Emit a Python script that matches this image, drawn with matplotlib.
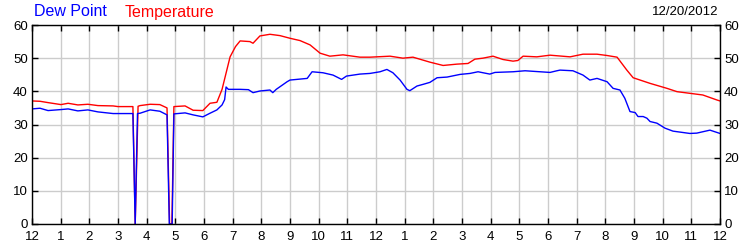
import matplotlib
matplotlib.use("Agg")
import matplotlib.pyplot as plt

plt.rcParams['font.family'] = ['Liberation Sans', 'DejaVu Sans']

# hours since midnight, degrees F
temp_hours = [0, 0.28, 0.56, 1.01, 1.26, 1.6, 1.95, 2.3, 2.83, 3.0, 3.52, 3.6, 3.7, 3.77,
              4.12, 4.46, 4.71, 4.8, 4.88, 4.95, 5.34, 5.62, 5.96, 6.21, 6.45, 6.63, 6.91,
              7.1, 7.26, 7.6, 7.71, 7.95, 8.3, 8.65, 9.0, 9.35, 9.7, 10.05, 10.39, 10.85,
              11.44, 11.79, 12.49, 12.94, 13.29, 13.88, 14.34, 14.82, 15.21, 15.45, 15.73,
              16.08, 16.43, 16.78, 16.95, 17.13, 17.61, 18.07, 18.77, 19.22, 19.71, 20.06,
              20.41, 20.75, 20.97, 21.56, 22.15, 22.5, 22.95, 23.4, 23.89, 24]
temperature = [37.1, 37.0, 36.6, 36.0, 36.4, 35.9, 36.1, 35.7, 35.6, 35.4, 35.4, 0, 35.5, 35.7,
               36.1, 36.0, 35.0, 0, 0, 35.4, 35.6, 34.3, 34.2, 36.4, 36.7, 40.6, 50.4,
               53.5, 55.2, 55.0, 54.5, 56.7, 57.2, 56.8, 56.0, 55.3, 54.0, 51.5, 50.6, 51.0,
               50.3, 50.3, 50.6, 50.0, 50.3, 48.8, 47.8, 48.2, 48.4, 49.7, 50.0,
               50.6, 49.6, 49.1, 49.3, 50.6, 50.4, 50.9, 50.4, 51.2, 51.2, 50.8,
               50.3, 46.4, 44.1, 42.4, 40.9, 39.9, 39.4, 38.9, 37.4, 37.1]

dew_hours = [0, 0.28, 0.56, 1.01, 1.26, 1.6, 1.95, 2.3, 2.83, 3.52, 3.6, 3.68, 3.77, 4.12,
             4.46, 4.71, 4.79, 4.89, 4.95, 5.34, 5.62, 5.96, 6.21, 6.45, 6.63, 6.72, 6.77,
             6.85, 7.26, 7.55, 7.71, 7.95, 8.3, 8.4, 8.52, 8.9, 9.0, 9.6, 9.77, 10.15, 10.5,
             10.8, 10.97, 11.44, 11.79, 12.14, 12.38, 12.59, 12.84, 13.08, 13.18, 13.43,
             13.64, 13.88, 14.13, 14.48, 14.93, 15.28, 15.56, 15.97, 16.15, 16.78, 17.2,
             18.07, 18.31, 18.42, 18.87, 19.22, 19.46, 19.71, 20.06, 20.27, 20.51, 20.68,
             20.86, 21.04, 21.14, 21.32, 21.45, 21.56, 21.8, 22.08, 22.36, 22.95, 23.19,
             23.65, 24]
dew_point = [34.7, 34.9, 34.2, 34.5, 34.7, 34.1, 34.4, 33.8, 33.3, 33.3, 0, 33.3, 33.4, 34.4,
             34.0, 32.9, 0, 0, 33.2, 33.5, 32.9, 32.3, 33.4, 34.4, 35.9, 37.5, 41.3,
             40.6, 40.6, 40.5, 39.6, 40.1, 40.4, 39.6, 40.6, 42.9, 43.4, 43.9, 45.9, 45.6, 44.9,
             43.6, 44.6, 45.2, 45.4, 45.9, 46.6, 45.6, 43.4, 40.6, 40.2, 41.6,
             42.1, 42.7, 44.1, 44.3, 45.1, 45.4, 45.9, 45.2, 45.7, 45.9, 46.2,
             45.7, 46.2, 46.4, 46.2, 44.9, 43.4, 43.9, 42.9, 40.9, 40.4, 37.9,
             33.9, 33.6, 32.4, 32.4, 31.9, 30.9, 30.4, 28.9, 28.0, 27.3, 27.4,
             28.3, 27.3]

hour_labels = ["12", "1", "2", "3", "4", "5", "6", "7", "8", "9", "10", "11",
               "12", "1", "2", "3", "4", "5", "6", "7", "8", "9", "10", "11", "12"]
y_ticks = [0, 10, 20, 30, 40, 50, 60]

fig = plt.figure(figsize=(7.5, 2.5), dpi=100)
ax = fig.add_axes([32 / 750, 26 / 250, 688 / 750, 199 / 250])

ax.plot(temp_hours, temperature, color="#ff0000", linewidth=1)
ax.plot(dew_hours, dew_point, color="#0000ff", linewidth=1)

ax.set_xlim(0, 24)
ax.set_ylim(0, 60)
ax.set_xticks(range(25))
ax.set_xticklabels(hour_labels)
ax.set_yticks(y_ticks)
ax.grid(True, color="#cccccc", linewidth=1)
ax.set_axisbelow(True)
ax.tick_params(direction="in", length=4, width=1, labelsize=9.5, colors="black",
               top=True, right=True, labelright=True)
ax.tick_params(axis="x", pad=5)
ax.tick_params(axis="y", pad=3)
for s in ax.spines.values():
    s.set_linewidth(1)

fig.text(34 / 750, 1 - 12 / 250, "Dew Point", color="#0000ff", fontsize=11.5, va="center")
fig.text(125 / 750, 1 - 12 / 250, "Temperature", color="#ff0000", fontsize=11.5, va="center")
fig.text(718 / 750, 1 - 12 / 250, "12/20/2012", color="black", fontsize=9.5,
         va="center", ha="right")

fig.savefig("out.png", dpi=100)
